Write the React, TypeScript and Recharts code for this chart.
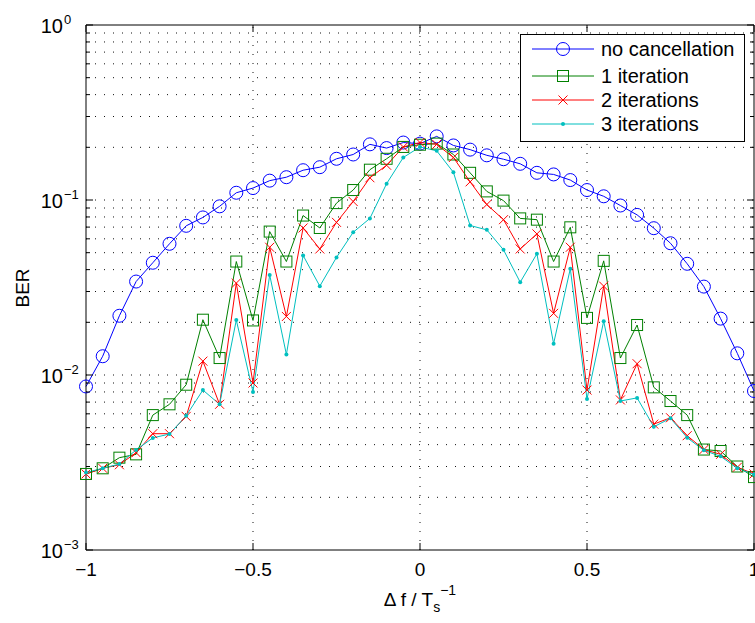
import React from 'react'
import { Line, LineChart, ReferenceLine, XAxis, YAxis } from 'recharts'

const font = '"Liberation Sans", Arial, Helvetica, sans-serif'

// plot frame in pixels (layout only)
const PLOT_LEFT = 86
const PLOT_RIGHT = 754
const PLOT_TOP = 25
const PLOT_BOTTOM = 550

const freqOffsets = [
  -1, -0.95, -0.9, -0.85, -0.8, -0.75, -0.7, -0.65, -0.6, -0.55, -0.5, -0.45, -0.4, -0.35, -0.3, -0.25, -0.2, -0.15,
  -0.1, -0.05, 0, 0.05, 0.1, 0.15, 0.2, 0.25, 0.3, 0.35, 0.4, 0.45, 0.5, 0.55, 0.6, 0.65, 0.7, 0.75, 0.8, 0.85, 0.9,
  0.95, 1,
]

const noCancellation = [
  0.0086, 0.0128, 0.0218, 0.0342, 0.0438, 0.0562, 0.0712, 0.0795, 0.092, 0.11, 0.117, 0.129, 0.135, 0.148, 0.154,
  0.172, 0.182, 0.208, 0.198, 0.213, 0.21, 0.231, 0.205, 0.194, 0.18, 0.171, 0.161, 0.143, 0.14, 0.13, 0.114, 0.105,
  0.093, 0.0822, 0.069, 0.0566, 0.0432, 0.032, 0.021, 0.0133, 0.0081,
]

const oneIteration = [
  0.00272, 0.00293, 0.00337, 0.00352, 0.0059, 0.0068, 0.0088, 0.0207, 0.0125, 0.0445, 0.0205, 0.066, 0.0445, 0.0815,
  0.0692, 0.096, 0.114, 0.149, 0.172, 0.201, 0.207, 0.21, 0.182, 0.143, 0.112, 0.0992, 0.0785, 0.0772, 0.0445, 0.0698,
  0.0212, 0.0449, 0.0125, 0.0193, 0.0085, 0.0071, 0.0059, 0.00375, 0.00368, 0.003, 0.00261,
]

const twoIterations = [
  0.00272, 0.00293, 0.00307, 0.0036, 0.00462, 0.00462, 0.0058, 0.012, 0.0068, 0.0335, 0.009, 0.0537, 0.0216, 0.0692,
  0.0525, 0.0745, 0.098, 0.134, 0.158, 0.201, 0.213, 0.208, 0.175, 0.127, 0.0942, 0.0772, 0.0525, 0.064, 0.0225, 0.0537,
  0.0082, 0.0322, 0.0072, 0.0116, 0.00524, 0.0057, 0.0045, 0.00375, 0.00352, 0.00297, 0.00272,
]

const threeIterations = [
  0.00277, 0.00293, 0.0031, 0.00373, 0.00437, 0.0046, 0.00585, 0.0082, 0.0068, 0.0206, 0.008, 0.0373, 0.0131, 0.0482,
  0.0322, 0.047, 0.0654, 0.0785, 0.124, 0.175, 0.201, 0.191, 0.144, 0.0715, 0.0675, 0.0519, 0.0339, 0.0493, 0.0151,
  0.0405, 0.0073, 0.0203, 0.0071, 0.0074, 0.00506, 0.00566, 0.00438, 0.00371, 0.00343, 0.00293, 0.0027,
]

const xTicks = [-1, -0.5, 0, 0.5, 1]
const xGrid = [-0.5, 0, 0.5]
const yMajor = [0.001, 0.01, 0.1, 1]
const yMinor = [
  0.002, 0.003, 0.004, 0.005, 0.006, 0.007, 0.008, 0.009, 0.02, 0.03, 0.04, 0.05, 0.06, 0.07, 0.08, 0.09, 0.2, 0.3, 0.4,
  0.5, 0.6, 0.7, 0.8, 0.9,
]
const yGrid = [...yMinor, 0.01, 0.1]
const yTicks = [...yMajor, ...yMinor].sort((a, b) => a - b)

const series = [
  { key: 'none', name: 'no cancellation', color: '#0000ff', marker: 'circle' },
  { key: 'one', name: '1 iteration', color: '#008000', marker: 'square' },
  { key: 'two', name: '2 iterations', color: '#ff0000', marker: 'cross' },
  { key: 'three', name: '3 iterations', color: '#00bfbf', marker: 'dot' },
]

const rows = freqOffsets.map((x, i) => ({
  x,
  none: noCancellation[i],
  one: oneIteration[i],
  two: twoIterations[i],
  three: threeIterations[i],
}))

function Marker({ kind, cx, cy, color }: { kind: string; cx: number; cy: number; color: string }) {
  if (kind === 'circle') return <circle cx={cx} cy={cy} r={6.5} fill="none" stroke={color} strokeWidth={1} />
  if (kind === 'square')
    return <rect x={cx - 5.5} y={cy - 5.5} width={11} height={11} fill="none" stroke={color} strokeWidth={1} />
  if (kind === 'cross')
    return (
      <g stroke={color} strokeWidth={1}>
        <line x1={cx - 4.5} y1={cy - 4.5} x2={cx + 4.5} y2={cy + 4.5} />
        <line x1={cx - 4.5} y1={cy + 4.5} x2={cx + 4.5} y2={cy - 4.5} />
      </g>
    )
  return <circle cx={cx} cy={cy} r={2} fill={color} stroke="none" />
}

const makeDot = (kind: string, color: string) => (props: any) => {
  const { cx, cy, index } = props
  if (cx == null || cy == null) return <g key={`d${index}`} />
  return (
    <g key={`d${index}`}>
      <Marker kind={kind} cx={cx} cy={cy} color={color} />
    </g>
  )
}

const expLabel = (v: number) => {
  const e = Math.round(Math.log10(v))
  return e < 0 ? `\u2212${-e}` : `${e}`
}

function YTick(props: any) {
  const { y, payload } = props
  const v = payload.value
  const major = yMajor.some((m) => Math.abs(m - v) < 1e-9)
  const len = major ? 7 : 4
  return (
    <g>
      <line x1={PLOT_LEFT} x2={PLOT_LEFT + len} y1={y} y2={y} stroke="#000" />
      <line x1={PLOT_RIGHT - len} x2={PLOT_RIGHT} y1={y} y2={y} stroke="#000" />
      {major && (
        <g fontFamily={font} fill="#000">
          <text x={63} y={y + 8} textAnchor="end" fontSize={20}>
            10
          </text>
          <text x={64} y={y - 1} textAnchor="start" fontSize={13}>
            {expLabel(v)}
          </text>
        </g>
      )}
    </g>
  )
}

function XTick(props: any) {
  const { x, payload } = props
  const v = payload.value
  const label = v < 0 ? `\u2212${-v}` : `${v}`
  return (
    <g>
      <line x1={x} x2={x} y1={PLOT_BOTTOM} y2={PLOT_BOTTOM - 7} stroke="#000" />
      <line x1={x} x2={x} y1={PLOT_TOP} y2={PLOT_TOP + 7} stroke="#000" />
      <text x={x} y={PLOT_BOTTOM + 26} textAnchor="middle" fontSize={19} fontFamily={font} fill="#000">
        {label}
      </text>
    </g>
  )
}

function LegendBox() {
  const rowY = [15, 42, 66, 90]
  return (
    <svg width={226} height={109} style={{ display: 'block' }}>
      <rect x={0.5} y={0.5} width={224} height={107} fill="#fff" stroke="#000" strokeWidth={1} />
      {series.map((s, i) => (
        <g key={s.key}>
          <line x1={12} x2={74} y1={rowY[i]} y2={rowY[i]} stroke={s.color} strokeWidth={1} />
          <Marker kind={s.marker} cx={43} cy={rowY[i]} color={s.color} />
          <text x={81} y={rowY[i] + 7} fontSize={20} fontFamily={font} fill="#000">
            {s.name}
          </text>
        </g>
      ))}
    </svg>
  )
}

export default function App() {
  return (
    <div style={{ position: 'absolute', left: 0, top: 0, width: 755, height: 623, background: '#fff' }}>
      <LineChart width={755} height={623} data={rows} margin={{ top: PLOT_TOP, right: 1, bottom: 0, left: 0 }}>
        {yGrid.map((v) => (
          <ReferenceLine key={`gy${v}`} y={v} stroke="#111" strokeWidth={1} strokeDasharray="1 8" />
        ))}
        {xGrid.map((v) => (
          <ReferenceLine key={`gx${v}`} x={v} stroke="#111" strokeWidth={1} strokeDasharray="1 8" />
        ))}
        <ReferenceLine y={1} stroke="#000" strokeWidth={1} />
        <ReferenceLine x={1} stroke="#000" strokeWidth={1} />
        <XAxis
          dataKey="x"
          type="number"
          domain={[-1, 1]}
          ticks={xTicks}
          interval={0}
          height={623 - PLOT_BOTTOM}
          axisLine={{ stroke: '#000' }}
          tickLine={false}
          tickSize={0}
          tickMargin={0}
          tick={<XTick />}
        />
        <YAxis
          type="number"
          scale="log"
          domain={[0.001, 1]}
          ticks={yTicks}
          interval={0}
          width={PLOT_LEFT}
          axisLine={{ stroke: '#000' }}
          tickLine={false}
          tickSize={0}
          tickMargin={0}
          tick={<YTick />}
        />
        {series.map((s) => (
          <Line
            key={s.key}
            type="linear"
            dataKey={s.key}
            name={s.name}
            stroke={s.color}
            strokeWidth={1}
            dot={makeDot(s.marker, s.color)}
            activeDot={false}
            isAnimationActive={false}
          />
        ))}
      </LineChart>
      <div style={{ position: 'absolute', left: 520, top: 34 }}>
        <LegendBox />
      </div>
      <svg width={755} height={623} style={{ position: 'absolute', left: 0, top: 0, pointerEvents: 'none' }}>
        <text
          transform="translate(29,288) rotate(-90)"
          textAnchor="middle"
          fontSize={19}
          fontFamily={font}
          fill="#000"
        >
          BER
        </text>
        <text x={420} y={606} textAnchor="middle" fontSize={19} fontFamily={font} fill="#000">
          {'\u0394 f / T'}
          <tspan fontSize={14} dy={6}>
            s
          </tspan>
          <tspan fontSize={14} dy={-17}>
            {'\u22121'}
          </tspan>
        </text>
      </svg>
    </div>
  )
}
